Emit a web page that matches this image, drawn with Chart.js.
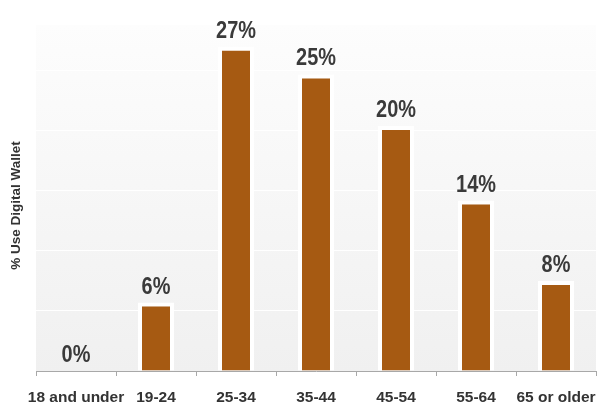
<!DOCTYPE html>
<html>
<head>
<meta charset="utf-8">
<script src="https://cdn.jsdelivr.net/npm/chart.js@4"></script>
<style>
  html, body { margin: 0; padding: 0; background: #ffffff; }
  #wrap { width: 606px; height: 416px; position: relative; }
</style>
</head>
<body>
<div id="wrap"><canvas id="c" width="606" height="416"></canvas></div>
<script>
const categories = ['18 and under', '19-24', '25-34', '35-44', '45-54', '55-64', '65 or older'];
const usePercent = [0, 5.7, 27, 24.7, 20.4, 14.2, 7.5];
const valueLabels = ['0%', '6%', '27%', '25%', '20%', '14%', '8%'];
const yTitle = '% Use Digital Wallet';

const bgPlugin = {
  id: 'bgPlugin',
  beforeDraw(chart) {
    const { ctx, chartArea: a } = chart;
    const g = ctx.createLinearGradient(0, a.top, 0, a.bottom);
    g.addColorStop(0, '#fdfdfd');
    g.addColorStop(1, '#f0f0f0');
    ctx.save();
    ctx.fillStyle = g;
    ctx.fillRect(a.left, a.top, a.right - a.left, a.bottom - a.top);
    ctx.restore();
  }
};

const labelPlugin = {
  id: 'labelPlugin',
  afterDatasetsDraw(chart) {
    const { ctx, chartArea: a } = chart;
    const meta = chart.getDatasetMeta(0);
    ctx.save();
    ctx.font = 'bold 24px "Liberation Sans", sans-serif';
    ctx.fillStyle = '#3a3a3a';
    ctx.textAlign = 'center';
    ctx.textBaseline = 'alphabetic';
    meta.data.forEach((bar, i) => {
      ctx.save();
      ctx.translate(bar.x, bar.y - 9);
      ctx.scale(0.83, 1);
      ctx.fillText(valueLabels[i], 0, 0);
      ctx.restore();
    });
    // y axis title
    ctx.font = 'bold 13.5px "Liberation Sans", sans-serif';
    ctx.fillStyle = '#333333';
    ctx.textBaseline = 'middle';
    ctx.translate(16, (a.top + a.bottom) / 2 + 8);
    ctx.rotate(-Math.PI / 2);
    ctx.fillText(yTitle, 0, 0);
    ctx.restore();
  }
};

new Chart(document.getElementById('c'), {
  type: 'bar',
  data: {
    labels: categories,
    datasets: [{
      data: usePercent,
      backgroundColor: '#a65a12',
      borderColor: '#ffffff',
      borderWidth: 4,
      borderSkipped: 'bottom',
      categoryPercentage: 1,
      barPercentage: 0.45
    }]
  },
  options: {
    responsive: false,
    animation: false,
    layout: { padding: { top: 24, right: 10, left: 0, bottom: 0 } },
    plugins: { legend: { display: false }, tooltip: { enabled: false } },
    scales: {
      x: {
        afterFit(s) { s.height = 45; s.paddingLeft = 0; s.paddingRight = 0; },
        grid: { offset: true, drawOnChartArea: false, drawTicks: true, tickLength: 5, color: '#a8a8a8' },
        border: { color: '#a8a8a8', width: 1 },
        ticks: {
          color: '#333333',
          padding: 12,
          maxRotation: 0,
          minRotation: 0,
          autoSkip: false,
          font: { family: '"Liberation Sans", sans-serif', size: 15.5, weight: 'bold' }
        }
      },
      y: {
        min: 0,
        max: 28.9,
        afterFit(s) { s.width = 36; },
        border: { display: false },
        grid: { color: '#ffffff', lineWidth: 1, drawTicks: false },
        ticks: { display: false, stepSize: 5 },
        title: { display: false, text: yTitle }
      }
    }
  },
  plugins: [bgPlugin, labelPlugin]
});
</script>
</body>
</html>
